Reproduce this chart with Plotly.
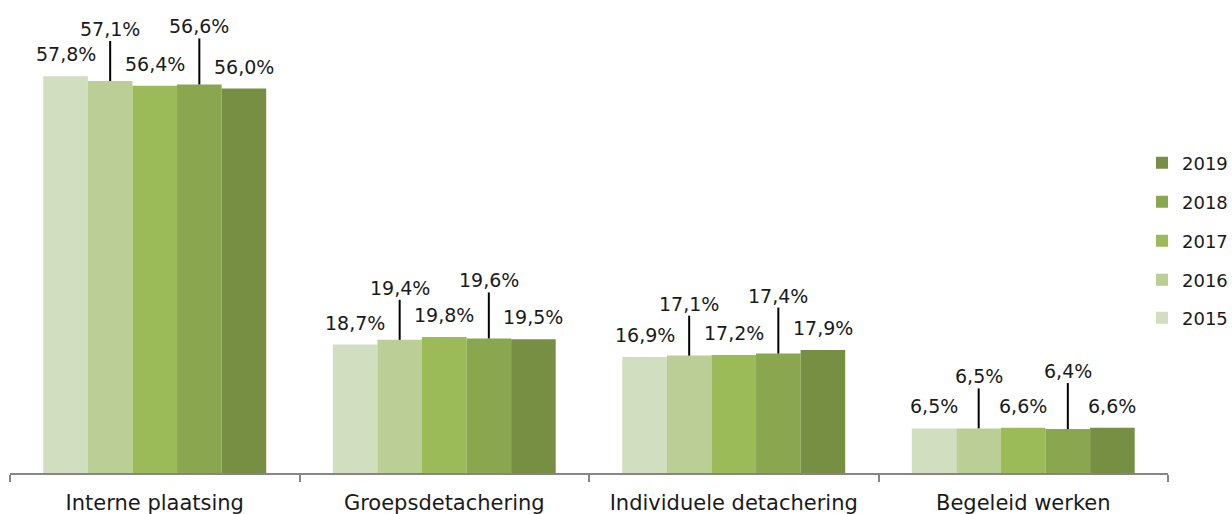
import plotly.graph_objects as go

categories = ["Interne plaatsing", "Groepsdetachering", "Individuele detachering", "Begeleid werken"]
years = ["2015", "2016", "2017", "2018", "2019"]
values = {
    "2015": [57.8, 18.7, 16.9, 6.5],
    "2016": [57.1, 19.4, 17.1, 6.5],
    "2017": [56.4, 19.8, 17.2, 6.6],
    "2018": [56.6, 19.6, 17.4, 6.4],
    "2019": [56.0, 19.5, 17.9, 6.6],
}
colors = {
    "2015": "#D2DEC0",
    "2016": "#BACE95",
    "2017": "#9BBB59",
    "2018": "#8AA64F",
    "2019": "#768F42",
}
raised = {"2016": 52, "2018": 58}   # label offset (px) for labels with leader lines
legend_y_px = {"2019": 163, "2018": 202, "2017": 241, "2016": 280, "2015": 318}

FONT = "DejaVu Sans, Verdana, sans-serif"
W, H = 1232, 514
ML, MR, MT, MB = 10, 64, 0, 41
PW, PH = W - ML - MR, H - MT - MB
BARGAP = 0.23

fig = go.Figure()
legend_names = {}
for k, yr in enumerate(["2019", "2018", "2017", "2016", "2015"]):
    legend_names[yr] = "legend" if k == 0 else f"legend{k+1}"

for yr in years:
    fig.add_trace(go.Bar(
        name=yr, x=categories, y=values[yr],
        marker=dict(color=colors[yr], line=dict(width=0)),
        legend=legend_names[yr],
        hoverinfo="skip",
    ))

bw = (1 - BARGAP) / len(years)
annotations = []
shapes = []
for i, yr in enumerate(years):
    for c, v in enumerate(values[yr]):
        xpos = c + (i - (len(years) - 1) / 2) * bw
        txt = f"{v:.1f}%".replace(".", ",")
        if yr in raised:
            off = raised[yr]
            shapes.append(dict(type="line", xref="x", yref="y", ysizemode="pixel",
                               yanchor=v, x0=xpos, x1=xpos, y0=0, y1=off - 12,
                               line=dict(color="black", width=2)))
        else:
            off = 22
        annotations.append(dict(x=xpos, y=v, xref="x", yref="y", text=txt,
                                showarrow=False, yshift=off, yanchor="middle",
                                font=dict(family=FONT, size=19, color="#1a1a1a")))

layout_legends = {}
for yr, name in legend_names.items():
    layout_legends[name] = dict(
        x=(1142 - ML) / PW, xref="paper", xanchor="left",
        y=(MT + PH - legend_y_px[yr]) / PH, yref="paper", yanchor="middle",
        font=dict(family=FONT, size=18, color="#1a1a1a"),
        bgcolor="rgba(0,0,0,0)",
    )

fig.update_layout(
    width=W, height=H,
    barmode="group", bargap=BARGAP, bargroupgap=0,
    plot_bgcolor="white", paper_bgcolor="white",
    margin=dict(l=ML, r=MR, t=MT, b=MB, autoexpand=False),
    font=dict(family=FONT, size=18, color="#1a1a1a"),
    xaxis=dict(showline=True, linecolor="#868686", linewidth=2,
               ticks="outside", tickson="boundaries", ticklen=7,
               tickcolor="#868686", tickwidth=2,
               tickfont=dict(family=FONT, size=21, color="#1a1a1a"),
               ticklabelstandoff=10, showgrid=False, automargin=False),
    yaxis=dict(range=[0, 68.9], visible=False, showgrid=False, zeroline=False),
    annotations=annotations,
    shapes=shapes,
    showlegend=True,
    **layout_legends,
)

fig.write_html(
    "out.html",
    config={"displayModeBar": False},
    post_script="document.body.style.margin='0';document.body.style.overflow='hidden';",
)
